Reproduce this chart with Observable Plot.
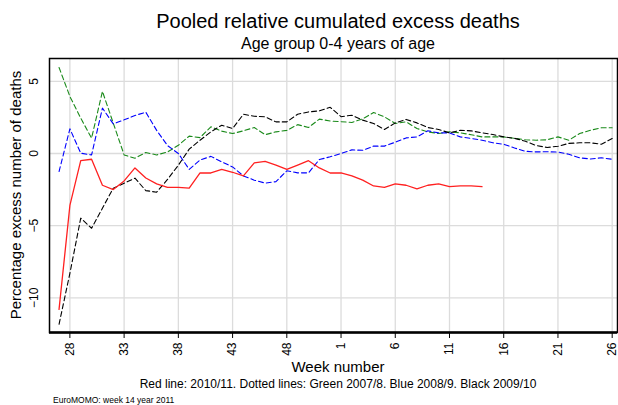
<!DOCTYPE html>
<html><head><meta charset="utf-8">
<script src="https://cdn.jsdelivr.net/npm/d3@7"></script>
<script src="https://cdn.jsdelivr.net/npm/@observablehq/plot@0.6"></script>
<style>
body{margin:0;background:#fff;}
#wrap{position:relative;width:618px;height:405px;font-family:"Liberation Sans",Arial,sans-serif;color:#000;overflow:hidden;background:#fff}
.t{position:absolute;left:0;width:676px;text-align:center;white-space:nowrap}
#chart{position:absolute;left:0;top:0}
</style></head>
<body><div id="wrap">
<div id="chart"></div>
<div class="t" style="top:11px;font-size:20px;line-height:20px">Pooled relative cumulated excess deaths</div>
<div class="t" style="top:36px;font-size:16px;line-height:16px">Age group 0-4 years of age</div>
<div class="t" style="top:359px;font-size:15px;line-height:15px">Week number</div>
<div class="t" style="top:378px;font-size:12px;line-height:12px">Red line: 2010/11. Dotted lines: Green 2007/8. Blue 2008/9. Black 2009/10</div>
<div style="position:absolute;left:53px;top:396px;font-size:8.5px;line-height:8.5px;white-space:nowrap">EuroMOMO: week 14 year 2011</div>
<div style="position:absolute;left:15px;top:195px;font-size:15px;line-height:15px;white-space:nowrap;transform:translate(-50%,-50%) rotate(-90deg)">Percentage excess number of deaths</div>
</div>
<script>
// Week numbers of the season (week 27 to week 26 of the next year)
const weekLabels = [27,28,29,30,31,32,33,34,35,36,37,38,39,40,41,42,43,44,45,46,47,48,49,50,51,52,
  1,2,3,4,5,6,7,8,9,10,11,12,13,14,15,16,17,18,19,20,21,22,23,24,25,26];
const xTickWeeks = [28,33,38,43,48,1,6,11,16,21,26];
const yTicks = [-10,-5,0,5];

// Red 2010/11 (up to week 14)
const red2010 = [-10.8,-3.6,-0.5,-0.4,-2.2,-2.5,-1.9,-1.0,-1.7,-2.1,-2.35,-2.35,-2.4,-1.35,-1.35,-1.1,-1.3,-1.55,-0.65,-0.55,
  -0.8,-1.1,-0.8,-0.5,-1.0,-1.35,-1.35,-1.55,-1.85,-2.25,-2.35,-2.1,-2.2,-2.45,-2.2,-2.1,-2.3,-2.25,-2.25,-2.3];
// Green 2007/8
const green2007 = [5.96,3.95,2.45,1.06,4.3,2.1,-0.1,-0.33,0.07,-0.1,0.1,0.57,1.2,1.1,1.85,1.55,1.38,1.57,1.8,1.3,
  1.5,1.6,2.0,1.8,2.38,2.25,2.2,2.15,2.4,2.84,2.54,2.08,2.19,1.73,1.5,1.38,1.5,1.43,1.3,1.15,
  1.15,1.15,1.05,0.95,0.92,0.95,1.15,0.92,1.38,1.61,1.78,1.78];
// Blue 2008/9
const blue2008 = [-1.25,1.71,0.02,-0.1,3.14,2.05,2.33,2.63,2.86,1.6,0.55,0.0,-1.1,-0.45,-0.2,-0.58,-0.93,-1.55,-1.85,-2.05,
  -1.95,-1.2,-1.34,-1.34,-0.42,-0.23,0.0,0.25,0.22,0.51,0.51,0.78,1.08,1.15,1.57,1.43,1.43,1.15,1.04,0.92,
  0.74,0.64,0.38,0.15,0.11,0.12,0.1,-0.05,-0.3,-0.38,-0.3,-0.4];
// Black 2009/10
const black2009 = [-11.83,-8.3,-4.48,-5.18,-3.79,-2.4,-2.06,-1.71,-2.57,-2.68,-1.8,-0.81,0.3,0.92,1.5,1.96,1.73,2.72,2.58,2.54,
  2.19,2.19,2.72,2.88,2.95,3.2,2.55,2.65,2.31,2.08,1.66,2.12,2.36,2.12,1.8,1.66,1.43,1.61,1.57,1.43,
  1.31,1.15,1.05,0.85,0.55,0.42,0.5,0.7,0.74,0.74,0.64,1.04];

const rows = s => s.map((v, i) => ({i, v}));
const tickIdx = xTickWeeks.map((w, j) => j === 0 ? weekLabels.indexOf(w) : weekLabels.indexOf(w, weekLabels.indexOf(xTickWeeks[j-1]) + 1));
const yMin = -12.4, yMax = 6.58;
const dash = "5,3";

const chart = Plot.plot({
  width: 618, height: 405,
  marginLeft: 49, marginRight: 1, marginTop: 58, marginBottom: 73,
  x: {domain: [-0.88, 51.49]},
  y: {domain: [yMin, yMax]},
  style: {fontFamily: '"Liberation Sans", Arial, sans-serif', fontSize: "12px", background: "transparent", overflow: "visible", color: "#000"},
  marks: [
    Plot.gridX(tickIdx, {stroke: "#dcdcdc", strokeOpacity: 1, strokeWidth: 1.3}),
    Plot.gridY(yTicks, {stroke: "#dcdcdc", strokeOpacity: 1, strokeWidth: 1.3}),
    Plot.line(rows(green2007), {x: "i", y: "v", stroke: "#1a8a1a", strokeWidth: 1.1, strokeDasharray: dash}),
    Plot.line(rows(blue2008), {x: "i", y: "v", stroke: "#0000ff", strokeWidth: 1.1, strokeDasharray: dash}),
    Plot.line(rows(black2009), {x: "i", y: "v", stroke: "#000000", strokeWidth: 1.1, strokeDasharray: dash}),
    Plot.line(rows(red2010), {x: "i", y: "v", stroke: "#ff2020", strokeWidth: 1.3}),
    Plot.frame({stroke: "#000", strokeWidth: 1.5}),
    Plot.ruleY([yMin], {stroke: "#000", strokeWidth: 2.5}),
    Plot.axisX(tickIdx, {tickSize: 6, tickPadding: 4, tickRotate: -90, tickFormat: i => String(weekLabels[i]), label: null, fontSize: 12}),
    Plot.axisY(yTicks, {tickSize: 0, tickPadding: 12, tickRotate: -90, label: null, fontSize: 12})
  ]
});
document.getElementById("chart").appendChild(chart);
</script>
</body></html>
